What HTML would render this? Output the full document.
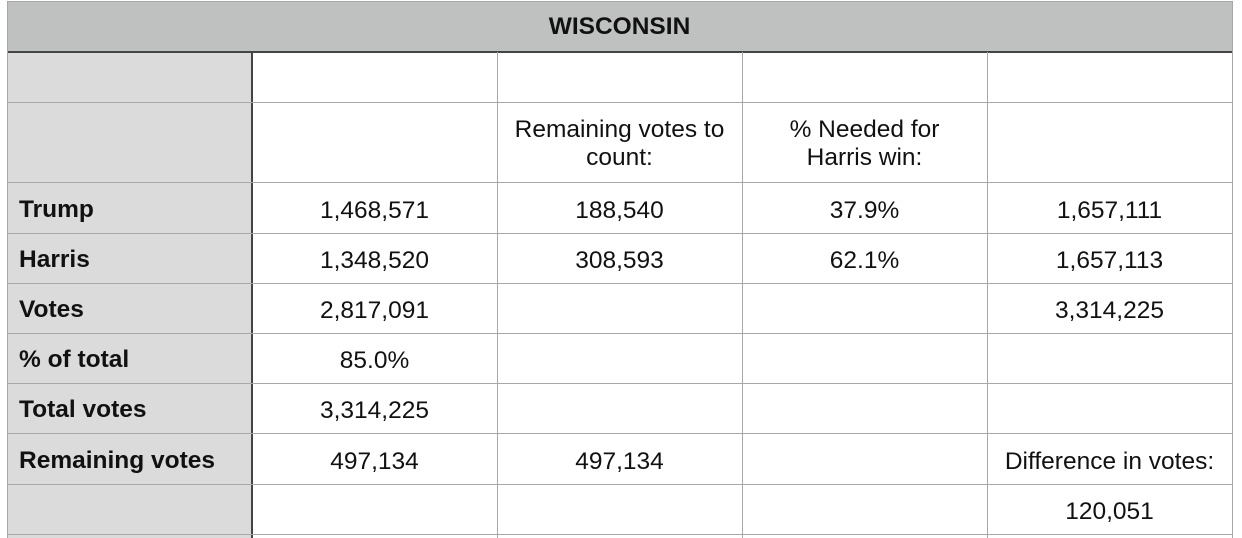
<!DOCTYPE html>
<html><head><meta charset="utf-8"><style>
body{margin:0;width:1242px;height:538px;background:#fff;position:relative;overflow:hidden;font-family:"Liberation Sans",Arial,sans-serif;font-size:24.5px;color:#111}
.a{position:absolute}
.h{background:#a8a8a8}
.t{position:absolute;text-align:center;width:245px;line-height:28px}
.l{position:absolute;left:19px;font-weight:bold;line-height:28px}
</style></head><body>
<div class="a" style="left:7px;top:1px;width:1225px;height:51px;background:#bfc1c0"></div>
<div class="a" style="left:7px;top:52px;width:245px;height:486px;background:#dcdbdb"></div>
<div class="a h" style="left:7px;top:1px;width:1226px;height:1px"></div>
<div class="a" style="left:7px;top:51px;width:1226px;height:2px;background:#444"></div>
<div class="a h" style="left:7px;top:1px;width:1px;height:537px"></div>
<div class="a" style="left:251px;top:52px;width:2px;height:486px;background:#444"></div>
<div class="a h" style="left:497px;top:52px;width:1px;height:486px"></div>
<div class="a h" style="left:742px;top:52px;width:1px;height:486px"></div>
<div class="a h" style="left:987px;top:52px;width:1px;height:486px"></div>
<div class="a h" style="left:1232px;top:1px;width:1px;height:537px"></div>
<div class="a h" style="left:7px;top:102px;width:1226px;height:1px"></div>
<div class="a h" style="left:7px;top:182px;width:1226px;height:1px"></div>
<div class="a h" style="left:7px;top:233px;width:1226px;height:1px"></div>
<div class="a h" style="left:7px;top:283px;width:1226px;height:1px"></div>
<div class="a h" style="left:7px;top:333px;width:1226px;height:1px"></div>
<div class="a h" style="left:7px;top:383px;width:1226px;height:1px"></div>
<div class="a h" style="left:7px;top:433px;width:1226px;height:1px"></div>
<div class="a h" style="left:7px;top:484px;width:1226px;height:1px"></div>
<div class="a h" style="left:7px;top:534px;width:1226px;height:1px"></div>

<div class="a" style="left:7px;width:1225px;top:13px;text-align:center;font-weight:bold;line-height:28px">WISCONSIN</div>

<div class="t" style="left:497px;top:116px">Remaining votes to<br>count:</div>
<div class="t" style="left:742px;top:116px">% Needed for<br>Harris win:</div>

<div class="l" style="top:196px">Trump</div>
<div class="t" style="left:252px;top:197px">1,468,571</div>
<div class="t" style="left:497px;top:197px">188,540</div>
<div class="t" style="left:742px;top:197px">37.9%</div>
<div class="t" style="left:987px;top:197px">1,657,111</div>

<div class="l" style="top:246px">Harris</div>
<div class="t" style="left:252px;top:247px">1,348,520</div>
<div class="t" style="left:497px;top:247px">308,593</div>
<div class="t" style="left:742px;top:247px">62.1%</div>
<div class="t" style="left:987px;top:247px">1,657,113</div>

<div class="l" style="top:296px">Votes</div>
<div class="t" style="left:252px;top:297px">2,817,091</div>
<div class="t" style="left:987px;top:297px">3,314,225</div>

<div class="l" style="top:346px">% of total</div>
<div class="t" style="left:252px;top:347px">85.0%</div>

<div class="l" style="top:396px">Total votes</div>
<div class="t" style="left:252px;top:397px">3,314,225</div>

<div class="l" style="top:447px">Remaining votes</div>
<div class="t" style="left:252px;top:448px">497,134</div>
<div class="t" style="left:497px;top:448px">497,134</div>
<div class="t" style="left:987px;top:448px">Difference in votes:</div>

<div class="t" style="left:987px;top:498px">120,051</div>
</body></html>
